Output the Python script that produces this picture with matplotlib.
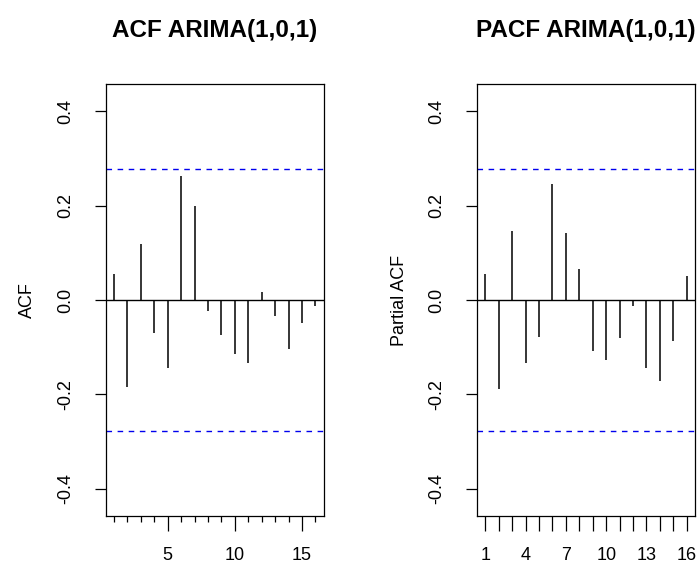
import numpy as np
import matplotlib
matplotlib.use("Agg")
from matplotlib import pyplot as plt

# lags and correlation values
lags = np.arange(1, 17)
acf_vals = [0.056, -0.184, 0.119, -0.070, -0.144, 0.262, 0.199, -0.024,
            -0.074, -0.115, -0.133, 0.018, -0.033, -0.104, -0.048, -0.013]
pacf_vals = [0.056, -0.188, 0.146, -0.133, -0.078, 0.245, 0.143, 0.066,
             -0.108, -0.128, -0.081, -0.013, -0.144, -0.172, -0.087, 0.050]
conf_limit = 0.278
titles = ["ACF ARIMA(1,0,1)", "PACF ARIMA(1,0,1)"]
ylabels = ["ACF", "Partial ACF"]
yticks = [-0.4, -0.2, 0.0, 0.2, 0.4]
left_xticks = [5, 10, 15]
right_xticks = [1, 4, 7, 10, 13, 16]

plt.rcParams["font.family"] = ["Liberation Sans", "DejaVu Sans"]

fig = plt.figure(figsize=(6.99, 5.63), dpi=100)
W, H = 699, 563


def r_panel(left_px, vals, title, ylabel):
    ax = fig.add_axes([left_px / W, (H - 516) / H, 217.5 / W, 432 / H])
    ax.vlines(lags, 0, vals, color="black", linewidth=1.1)
    ax.axhline(0, color="black", linewidth=1.0)
    for c in (conf_limit, -conf_limit):
        ax.axhline(c, color="#0000ee", linewidth=1.0, linestyle=(0, (4, 4)))
    ax.set_xlim(0.4, 16.6)
    ax.set_ylim(-0.4576, 0.4576)
    ax.set_yticks(yticks)
    ax.set_yticklabels(["%.1f" % v for v in yticks], rotation=90, va="center")
    ax.tick_params(axis="y", length=8, width=0.9, labelsize=13, pad=15)
    ax.set_ylabel(ylabel, fontsize=13, labelpad=15)
    for s in ax.spines.values():
        s.set_linewidth(0.9)
    fig.text((left_px + 108.7) / W, 1 - 37 / H, title, ha="center",
             va="baseline", fontsize=17.5, fontweight="bold")
    return ax


ax1 = r_panel(106, acf_vals, titles[0], ylabels[0])
ax1.set_xticks(left_xticks)
ax1.set_xticks(lags, minor=True)
ax1.tick_params(axis="x", which="major", length=11, width=0.9,
                labelsize=13, pad=11)
ax1.tick_params(axis="x", which="minor", length=4, width=0.9)

ax2 = r_panel(477.3, pacf_vals, titles[1], ylabels[1])
ax2.set_xticks(right_xticks)
ax2.set_xticks(lags, minor=True)
ax2.tick_params(axis="x", which="major", length=11, width=0.9,
                labelsize=13, pad=11)
ax2.tick_params(axis="x", which="minor", length=11, width=0.9)

fig.savefig("out.png", dpi=100)
plt.close(fig)
